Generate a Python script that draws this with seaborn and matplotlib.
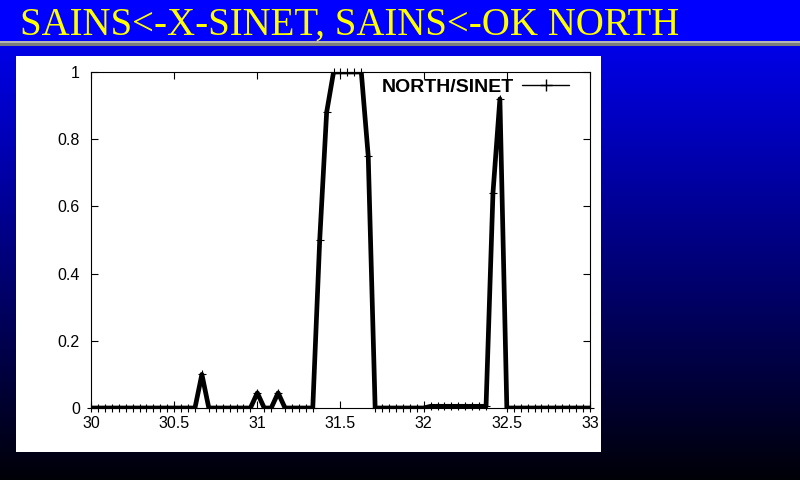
import numpy as np
import pandas as pd
import matplotlib
matplotlib.use("Agg")
import matplotlib.pyplot as plt
from matplotlib.lines import Line2D
from matplotlib.patches import Rectangle
import seaborn as sns

# === Data: hourly NORTH/SINET ratio, day 30 .. day 33
day = 30 + np.arange(73) / 24
ratio_d30 = [0, 0, 0, 0, 0, 0, 0, 0, 0, 0, 0, 0, 0, 0, 0, 0,
             0.1, 0, 0, 0, 0, 0, 0, 0]
ratio_d31 = [0.045, 0, 0, 0.045, 0, 0, 0, 0, 0, 0.5, 0.88, 1,
             1, 1, 1, 1, 0.75, 0, 0, 0, 0, 0, 0, 0]
ratio_d32 = [0, 0.005, 0.005, 0.005, 0.005, 0.005, 0.005, 0.005, 0.005, 0.005, 0.64, 0.92,
             0, 0, 0, 0, 0, 0, 0, 0, 0, 0, 0, 0]
ratio_d33 = [0]
ratio = ratio_d30 + ratio_d31 + ratio_d32 + ratio_d33

x_ticks = [30, 30.5, 31, 31.5, 32, 32.5, 33]
x_labels = ["30", "30.5", "31", "31.5", "32", "32.5", "33"]
y_ticks = [0, 0.2, 0.4, 0.6, 0.8, 1]
y_labels = ["0", "0.2", "0.4", "0.6", "0.8", "1"]

title = "SAINS<-X-SINET, SAINS<-OK NORTH"
series_name = "NORTH/SINET"

df = pd.DataFrame({"day": day, "ratio": ratio})

# === Style
sns.set_style("ticks")
plt.rcParams["font.family"] = ["Liberation Sans", "DejaVu Sans"]
plt.rcParams["text.color"] = "black"

fig = plt.figure(figsize=(8, 4.8), dpi=100)

# === Slide background (blue -> black gradient, grey rule, white panel)
bg = fig.add_axes([0, 0, 1, 1], zorder=0)
grad = np.linspace(1.0, 0.03, 480)
img = np.zeros((480, 1, 3))
img[:, 0, 2] = grad
bg.imshow(img, extent=[0, 800, 480, 0], aspect="auto", interpolation="bilinear")
bg.add_patch(Rectangle((0, 0), 800, 41, color="#0000ff", lw=0))
bg.add_patch(Rectangle((0, 41), 800, 2, color="#b4b4b4", lw=0))
bg.add_patch(Rectangle((0, 43), 800, 2.5, color="#7c7c7c", lw=0))
bg.add_patch(Rectangle((16, 56), 585, 396, color="white", lw=0))
bg.set_xlim(0, 800)
bg.set_ylim(480, 0)
bg.axis("off")

fig.text(20 / 800, 1 - 35 / 480, title, family="Liberation Serif", size=28,
         color="#ffff00", va="baseline", ha="left")

# === Plot
ax = fig.add_axes([91 / 800, 72 / 480, 499 / 800, 336 / 480], zorder=1)
ax.set_facecolor("none")
sns.lineplot(data=df, x="day", y="ratio", ax=ax, color="black", lw=3.4, legend=False)
sns.scatterplot(data=df, x="day", y="ratio", ax=ax, marker="+", s=36, color="black",
                linewidth=0.8, clip_on=False, legend=False, zorder=3)

ax.set_xlim(30, 33)
ax.set_ylim(0, 1)
ax.set_xticks(x_ticks)
ax.set_xticklabels(x_labels)
ax.set_yticks(y_ticks)
ax.set_yticklabels(y_labels)
ax.set_xlabel("")
ax.set_ylabel("")
ax.tick_params(direction="in", top=True, right=True, length=5, width=0.8,
               labelsize=11.5, colors="black")
ax.tick_params(axis="y", pad=8)
ax.tick_params(axis="x", pad=6)
for s in ax.spines.values():
    s.set_visible(True)
    s.set_linewidth(0.8)
    s.set_color("black")

handle = Line2D([0], [0], color="black", lw=1, marker="+", ms=8, mew=1)
leg = ax.legend(handles=[handle], labels=[series_name], loc="upper right",
                bbox_to_anchor=(0.958, 0.982), frameon=False, markerfirst=False,
                handlelength=2.4, handletextpad=0.45, borderpad=0, borderaxespad=0,
                prop={"weight": "bold", "size": 14})
leg.set_zorder(10)
for t in leg.get_texts():
    t.set_color("black")

fig.savefig("out.png", dpi=100)
